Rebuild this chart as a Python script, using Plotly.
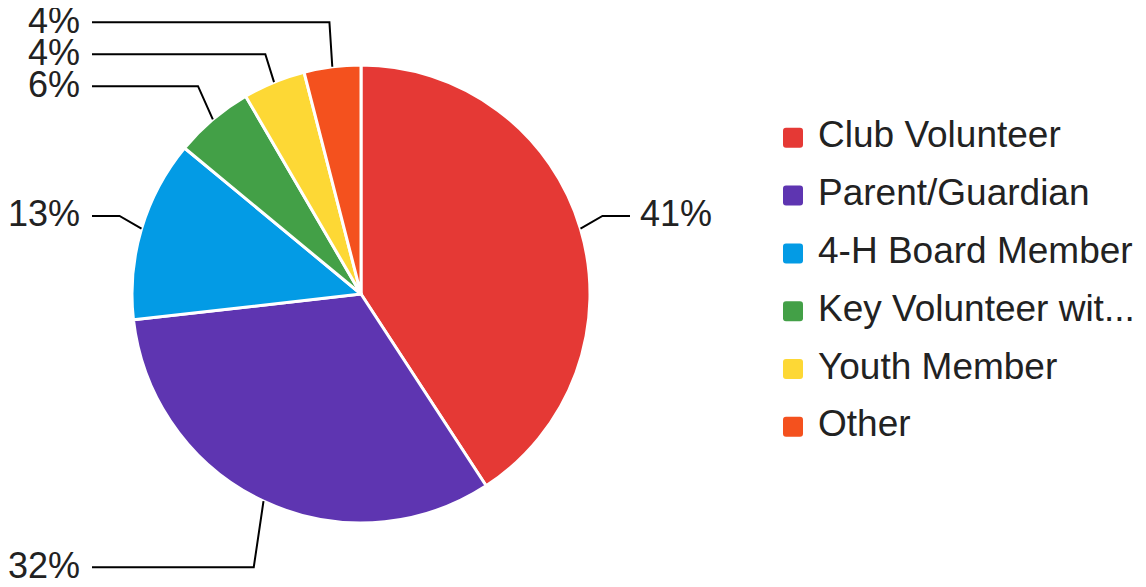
import math
import plotly.graph_objects as go

# ---- data ----
labels = ["Club Volunteer", "Parent/Guardian", "4-H Board Member",
          "Key Volunteer wit...", "Youth Member", "Other"]
counts = [102, 81, 32, 14, 11, 10]
colors = ["#e53935", "#5e35b1", "#039be5", "#43a047", "#fdd835", "#f4511e"]

# ---- layout constants (page pixels) ----
W, H = 1146, 587
OFF = 8                     # default body margin of the page
FW, FH = W - 2 * OFF, H - OFF
CX, CY, R = 361, 294, 229
FONT = "Liberation Sans, Arial, sans-serif"
TXT = "#222222"
FS_PCT = 36
FS_LEG = 37
LABEL_R_TOP = 274      # radius used to place labels in the upper half
LABEL_R_BOTTOM = 302   # radius used to place labels in the lower half
ELBOW_K = 1.1          # elbow x distance factor
COL_GAP = 40           # label column distance beyond the rim
MIN_GAP = 32           # min vertical spacing between labels on one side


def px(x):
    return (x - OFF) / FW


def py(y):
    return 1 - (y - OFF) / FH


fig = go.Figure()
fig.add_trace(go.Pie(
    labels=labels, values=counts, sort=False, direction="clockwise",
    rotation=0, textinfo="none", hoverinfo="none", showlegend=False,
    marker=dict(colors=colors, line=dict(color="white", width=3)),
    domain=dict(x=[px(CX - R), px(CX + R)], y=[py(CY + R), py(CY - R)]),
))

total = sum(counts)
shapes, annotations = [], []

items = []
cum = 0
for i, c in enumerate(counts):
    mid = (cum + c / 2) / total * 2 * math.pi
    cum += c
    s, co = math.sin(mid), math.cos(mid)
    side = "R" if s > 0 else "L"
    rl = LABEL_R_TOP if co > 0 else LABEL_R_BOTTOM
    items.append(dict(i=i, s=s, c=co, side=side, y=CY - rl * co,
                      pct=round(100 * c / total)))

for side in ("L", "R"):
    group = sorted([it for it in items if it["side"] == side], key=lambda d: d["y"])
    for a, b in zip(group, group[1:]):
        if b["y"] < a["y"] + MIN_GAP:
            b["y"] = a["y"] + MIN_GAP

for it in items:
    ex, ey = CX + R * it["s"], CY - R * it["c"]
    bx = CX + R * ELBOW_K * it["s"]
    by = it["y"]
    if it["side"] == "R":
        colx = CX + R + COL_GAP
        tx, anchor = colx + 8, "left"
    else:
        colx = CX - R - COL_GAP
        tx, anchor = colx - 10, "right"
    path = f"M{px(ex)},{py(ey)} L{px(bx)},{py(by)} L{px(colx)},{py(by)}"
    shapes.append(dict(type="path", xref="paper", yref="paper", path=path,
                       line=dict(color="#000000", width=2)))
    annotations.append(dict(xref="paper", yref="paper", x=px(tx), y=py(by),
                            xanchor=anchor, yanchor="middle", showarrow=False,
                            text=f"{it['pct']}%", yshift=2,
                            font=dict(family=FONT, size=FS_PCT, color=TXT)))

# custom legend
LX, LY0, LSTEP, SQ, RAD = 793, 137.8, 57.8, 20, 3
for i, (lab, col) in enumerate(zip(labels, colors)):
    yc = LY0 + i * LSTEP
    x0, x1 = LX - SQ / 2, LX + SQ / 2
    y0, y1 = yc - SQ / 2, yc + SQ / 2
    p = (f"M{px(x0 + RAD)},{py(y0)} L{px(x1 - RAD)},{py(y0)} "
         f"Q{px(x1)},{py(y0)} {px(x1)},{py(y0 + RAD)} "
         f"L{px(x1)},{py(y1 - RAD)} Q{px(x1)},{py(y1)} {px(x1 - RAD)},{py(y1)} "
         f"L{px(x0 + RAD)},{py(y1)} Q{px(x0)},{py(y1)} {px(x0)},{py(y1 - RAD)} "
         f"L{px(x0)},{py(y0 + RAD)} Q{px(x0)},{py(y0)} {px(x0 + RAD)},{py(y0)} Z")
    shapes.append(dict(type="path", xref="paper", yref="paper", path=p,
                       fillcolor=col, line=dict(width=0)))
    annotations.append(dict(xref="paper", yref="paper", x=px(816), y=py(yc),
                            xanchor="left", yanchor="middle", showarrow=False,
                            text=lab, yshift=3,
                            font=dict(family=FONT, size=FS_LEG, color=TXT)))

fig.update_layout(
    width=FW, height=FH, margin=dict(l=0, r=0, t=0, b=0),
    paper_bgcolor="white", plot_bgcolor="white",
    shapes=shapes, annotations=annotations,
)
fig.write_html("out.html")
